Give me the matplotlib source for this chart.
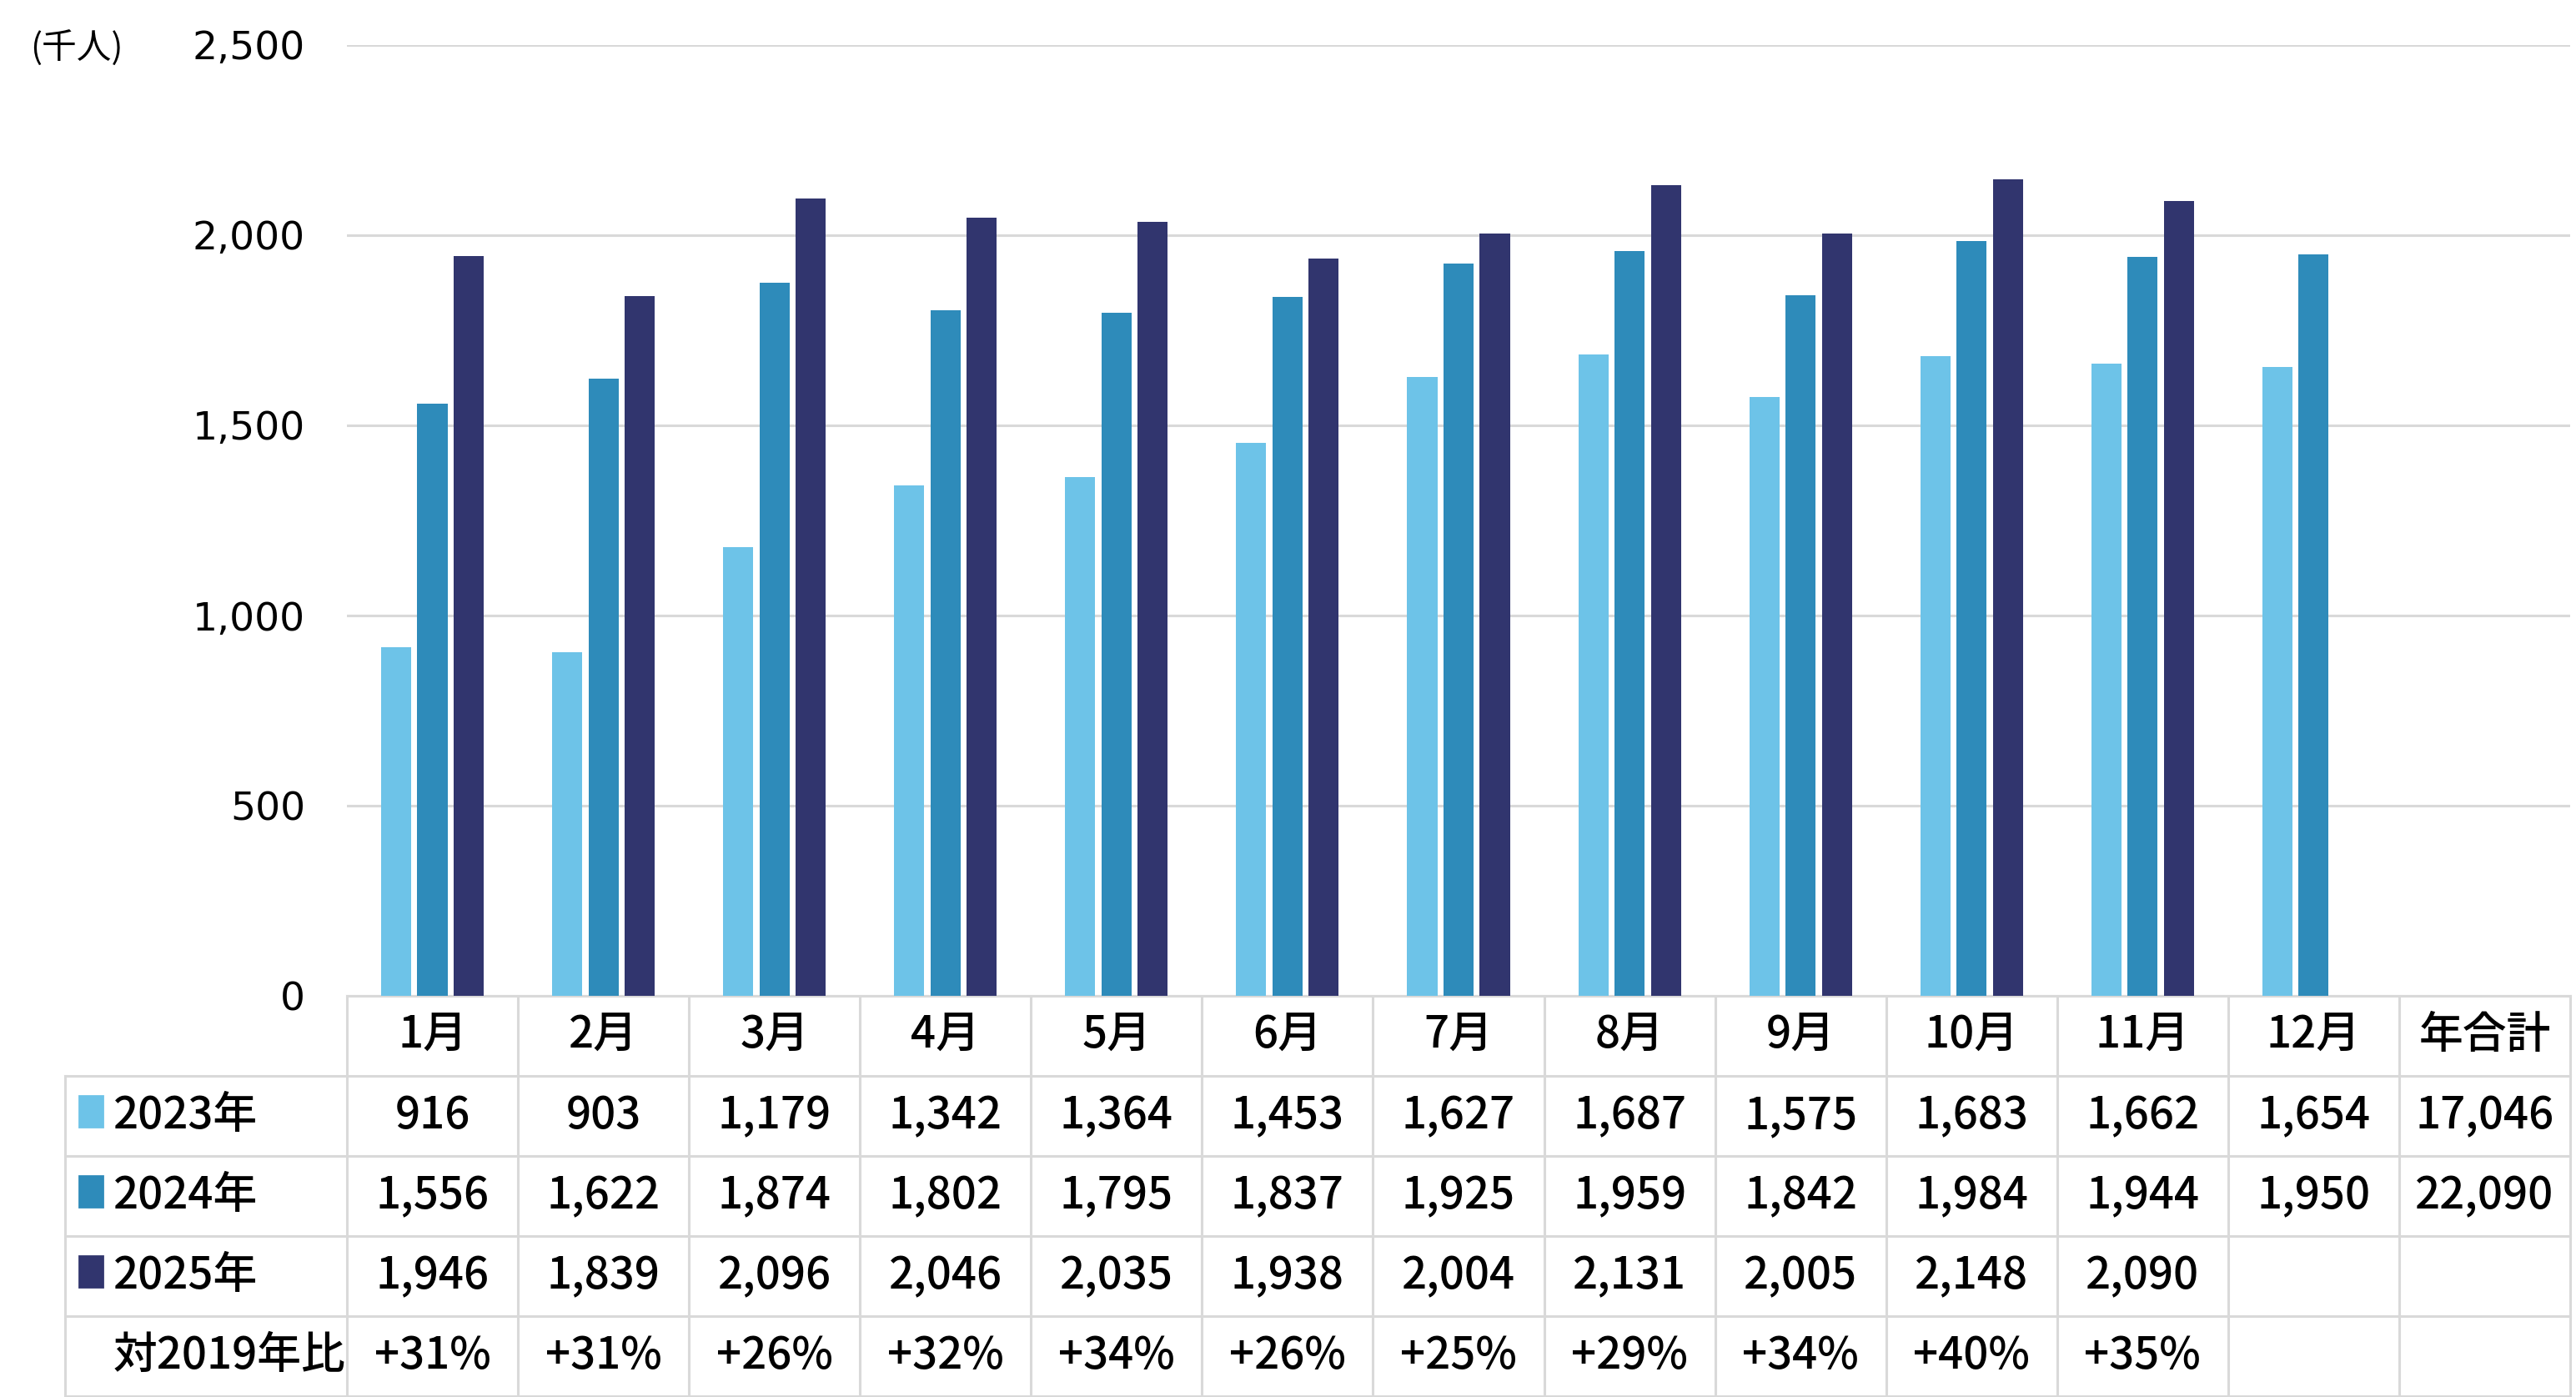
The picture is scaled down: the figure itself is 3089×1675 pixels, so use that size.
import matplotlib.pyplot as plt
import matplotlib.patches as mpatches
import numpy as np

# data
months = ['1月', '2月', '3月', '4月', '5月', '6月', '7月', '8月', '9月', '10月', '11月', '12月']
years = ['2023年', '2024年', '2025年']
v2023 = [916, 903, 1179, 1342, 1364, 1453, 1627, 1687, 1575, 1683, 1662, 1654]
v2024 = [1556, 1622, 1874, 1802, 1795, 1837, 1925, 1959, 1842, 1984, 1944, 1950]
v2025 = [1946, 1839, 2096, 2046, 2035, 1938, 2004, 2131, 2005, 2148, 2090]
totals = ['17,046', '22,090', '']
vs2019 = ['+31%', '+31%', '+26%', '+32%', '+34%', '+26%', '+25%', '+29%', '+34%', '+40%', '+35%']
ratio_label = '対2019年比'
total_label = '年合計'

colors = ['#6DC3E8', '#2E8BBA', '#31356E']
grid_c = '#D9D9D9'
JP = ['Noto Sans CJK JP', 'DejaVu Sans']

W, H = 3089, 1675
DPI = 200
fig = plt.figure(figsize=(W / DPI, H / DPI), dpi=DPI)

# pixel layout
x0, x1 = 416, 3082
ytop, ybot = 54, 1194
tbot = 1674
lab_left = 78
ncol = 13
colw = (x1 - x0) / ncol
lab_w = (x0 - lab_left) / colw

ax = fig.add_axes([x0 / W, 1 - ybot / H, (x1 - x0) / W, (ybot - ytop) / H])
x = np.arange(12)
pitch, bw = 0.212, 0.176
series = [v2023, v2024, v2025]
for i, vals in enumerate(series):
    ax.bar(x[:len(vals)] + (i - 1) * pitch, vals, width=bw, color=colors[i], zorder=3)

ax.set_xlim(-0.5, 12.5)
ax.set_ylim(0, 2500)
ax.set_yticks(range(0, 2501, 500))
ax.set_yticklabels([f'{v:,}' for v in range(0, 2501, 500)], fontsize=17, family='DejaVu Sans')
ax.tick_params(axis='y', length=0, pad=18)
ax.tick_params(axis='x', length=0, labelbottom=False)
ax.grid(axis='y', color=grid_c, lw=1.1, zorder=0)
for s in ['top', 'right', 'left']:
    ax.spines[s].set_visible(False)
ax.spines['bottom'].set_color(grid_c)
ax.spines['bottom'].set_linewidth(1.1)
fig.text(36 / W, 1 - 58 / H, '(千人)', fontsize=15, family=JP, va='center', ha='left')

# table below
tax = fig.add_axes([lab_left / W, 1 - tbot / H, (x1 - lab_left) / W, (tbot - ybot) / H])
tax.set_xlim(-0.5 - lab_w, 12.5)
nrow = 5
row_h = (tbot - ybot) / nrow
tax.set_ylim(tbot - ybot, 0)
tax.axis('off')
lw = 1.1

# horizontal lines
for r in range(1, nrow + 1):
    y = r * row_h
    tax.plot([-0.5 - lab_w, 12.5], [y, y], color=grid_c, lw=lw, clip_on=False)
# vertical lines
for c in range(ncol + 1):
    xc = -0.5 + c
    tax.plot([xc, xc], [0, nrow * row_h], color=grid_c, lw=lw, clip_on=False)
tax.plot([-0.5 - lab_w] * 2, [row_h, nrow * row_h], color=grid_c, lw=lw, clip_on=False)

fs = 19
fw = 'medium'
header = months + [total_label]
for c, t in enumerate(header):
    tax.text(c, 0.5 * row_h, t, ha='center', va='center', fontsize=fs, family=JP, weight=fw)

for r, vals in enumerate(series):
    yc = (r + 1.5) * row_h
    cells = [f'{v:,}' for v in vals] + [''] * (12 - len(vals)) + [totals[r]]
    for c, t in enumerate(cells):
        tax.text(c, yc, t, ha='center', va='center', fontsize=fs, family=JP, weight=fw)
    sq_x = -0.5 - lab_w + 17 / colw
    tax.add_patch(mpatches.Rectangle((sq_x, yc - 24), 28 / colw, 37, color=colors[r], clip_on=False))
    tax.text(-0.5 - lab_w + 58 / colw, yc, years[r], ha='left', va='center', fontsize=fs, family=JP, weight=fw)

yc = 4.5 * row_h
for c, t in enumerate(vs2019):
    tax.text(c, yc, t, ha='center', va='center', fontsize=fs, family=JP, weight=fw)
tax.text(-0.5 - lab_w + 58 / colw, yc, ratio_label, ha='left', va='center', fontsize=fs, family=JP, weight=fw)

fig.savefig('out.png', dpi=DPI, facecolor='white')
